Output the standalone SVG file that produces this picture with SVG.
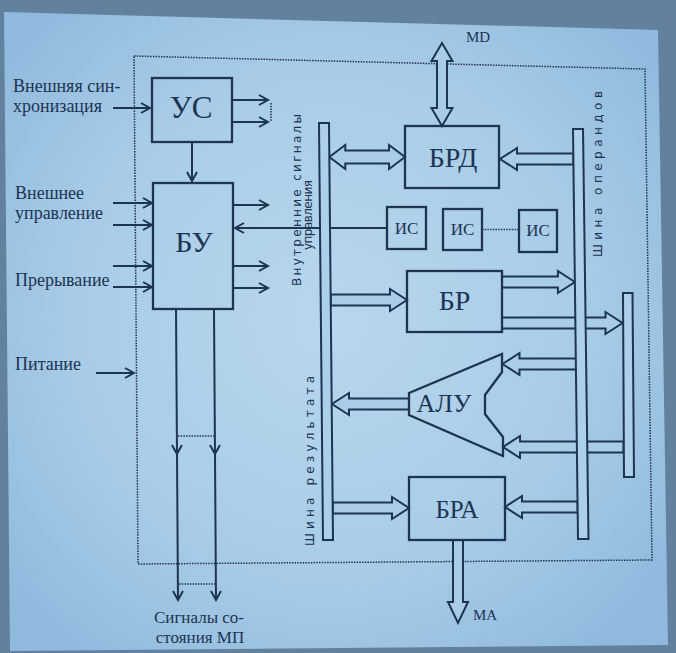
<svg xmlns="http://www.w3.org/2000/svg" width="676" height="653" viewBox="0 0 676 653">
<defs>
<radialGradient id="paperGrad" cx="330" cy="320" r="420" gradientUnits="userSpaceOnUse">
<stop offset="0" stop-color="#b8d7ee"/>
<stop offset="0.6" stop-color="#a8cce8"/>
<stop offset="1" stop-color="#8fbadd"/>
</radialGradient>
<marker id="ah" viewBox="-11 -7 13 14" markerWidth="13" markerHeight="14" refX="0" refY="0" orient="auto" markerUnits="userSpaceOnUse">
<path d="M-9,-5 L0,0 L-9,5" fill="none" stroke="#1d3452" stroke-width="2"/>
</marker>
<style>
.ln{fill:none;stroke:#1d3452;stroke-width:2}
.box{fill:none;stroke:#1d3452;stroke-width:2.3}
.bus{fill:#acd0ea;stroke:#1d3452;stroke-width:2}
.big{fill:#a9cde9;stroke:#1d3452;stroke-width:2;stroke-linejoin:miter}
.dot{fill:none;stroke:#1d3452;stroke-width:1.5;stroke-dasharray:1.5 1.2}
.t{fill:#1d3452;font-family:"Liberation Serif","Times New Roman",serif}
.v{fill:#1d3452;font-size:12px;font-family:"DejaVu Sans","Liberation Sans",sans-serif}
</style>
</defs>
<rect x="0" y="0" width="676" height="653" fill="#62819f"/>
<polygon points="4,12 658,30 668,645 10,651" fill="url(#paperGrad)"/>

<path id="boundary" d="M134,56 L645,69 L652,560 L138,564 Z" class="dot"/>

<g id="connectors">
<line class="ln" x1="113" y1="108" x2="150" y2="108" marker-end="url(#ah)"/>
<line class="ln" x1="232" y1="100" x2="268" y2="100" marker-end="url(#ah)"/>
<line class="ln" x1="232" y1="122" x2="268" y2="122" marker-end="url(#ah)"/>
<line class="dot" x1="271" y1="103" x2="271" y2="122"/>
<line class="ln" x1="192" y1="142" x2="192" y2="181" marker-end="url(#ah)"/>
<line class="ln" x1="113" y1="203" x2="152" y2="203" marker-end="url(#ah)"/>
<line class="ln" x1="113" y1="225" x2="152" y2="225" marker-end="url(#ah)"/>
<line class="ln" x1="113" y1="266" x2="152" y2="266" marker-end="url(#ah)"/>
<line class="ln" x1="113" y1="287" x2="152" y2="287" marker-end="url(#ah)"/>
<line class="ln" x1="233" y1="205" x2="268" y2="205" marker-end="url(#ah)"/>
<line class="ln" x1="233" y1="266" x2="268" y2="266" marker-end="url(#ah)"/>
<line class="ln" x1="233" y1="288" x2="268" y2="288" marker-end="url(#ah)"/>
<line class="ln" x1="387" y1="228" x2="235" y2="228" marker-end="url(#ah)"/>
<line class="ln" x1="96" y1="373" x2="134" y2="373" marker-end="url(#ah)"/>
<path class="ln" d="M176,309 L177,454 L178,600" marker-mid="url(#ah)" marker-end="url(#ah)"/>
<path class="ln" d="M214,309 L215,454 L216,600" marker-mid="url(#ah)" marker-end="url(#ah)"/>
<line class="dot" x1="178" y1="436" x2="214" y2="436"/>
<line class="dot" x1="179" y1="584" x2="215" y2="584"/>
<line class="dot" x1="482" y1="229.5" x2="519" y2="229.5"/>

<polygon class="big" points="329.3,157 345.3,145 345.3,150.5 389,150.5 389,145 405,157 389,169 389,163.5 345.3,163.5 345.3,169"/>
<polygon class="big" points="573.4,153.5 517,153.5 517,148 500,159 517,170 517,164.5 573.4,164.5"/>
<polygon class="big" points="330.7,294.5 390,294.5 390,289 407,300 390,311 390,305.5 330.7,305.5"/>
<polygon class="big" points="502,276.5 557.9,276.5 557.9,271 574.9,282 557.9,293 557.9,287.5 502,287.5"/>
<polygon class="big" points="502,317.5 605.5,317.5 605.5,312 622.5,323 605.5,334 605.5,328.5 502,328.5"/>
<polygon class="big" points="409,398.5 349,398.5 349,393 332,404 349,415 349,409.5 409,409.5"/>
<polygon class="big" points="576,358.5 519.5,358.5 519.5,353 502.5,364 519.5,375 519.5,369.5 576,369.5"/>
<polygon class="big" points="623.5,441.5 520,441.5 520,436 503,447 520,458 520,452.5 623.5,452.5"/>
<polygon class="big" points="332.7,502.5 392,502.5 392,497 409,508 392,519 392,513.5 332.7,513.5"/>
<polygon class="big" points="577.6,501.5 522,501.5 522,496 505,507 522,518 522,512.5 577.6,512.5"/>
<polygon class="big" points="442,43 452.5,61 447,61 447,108 452.5,108 442,126 431.5,108 437,108 437,61 431.5,61"/>
<polygon class="big" points="453,540 453,602 448,602 458,623 468,602 463,602 463,540"/>
</g>

<g id="bus-result">
<polygon class="bus" points="319,123 329,123 333,540 323,540"/>
<text class="v" transform="translate(314,461) rotate(-90)" text-anchor="middle" textLength="170" lengthAdjust="spacing">Шина результата</text>
</g>
<g id="bus-operand">
<polygon class="bus" points="573,129 583,129 588.5,539 578,539"/>
<text class="v" transform="translate(602,174) rotate(-90)" text-anchor="middle" textLength="166" lengthAdjust="spacing">Шина операндов</text>
</g>
<g id="bus-third">
<polygon class="bus" points="623,293 632.5,293 634,477 624,477"/>
</g>
<g id="label-internal">
<text class="v" transform="translate(301,200) rotate(-90)" text-anchor="middle" textLength="172" lengthAdjust="spacing">Внутренние сигналы</text>
<text class="v" transform="translate(312,215) rotate(-90)" text-anchor="middle" textLength="70" lengthAdjust="spacing">управления</text>
</g>

<g id="node-us">
<rect class="box" x="152" y="78" width="80" height="64"/>
<text class="t" x="191" y="118" font-size="31" text-anchor="middle">УС</text>
</g>
<g id="node-bu">
<rect class="box" x="153" y="183" width="80" height="126"/>
<text class="t" x="194" y="252" font-size="30" text-anchor="middle">БУ</text>
</g>
<g id="node-brd">
<rect class="box" x="405" y="126" width="94" height="62"/>
<text class="t" x="453" y="167" font-size="28" text-anchor="middle">БРД</text>
</g>
<g id="node-is1">
<rect class="box" x="387" y="207" width="39" height="42"/>
<text class="t" x="406.5" y="234" font-size="17" text-anchor="middle">ИС</text>
</g>
<g id="node-is2">
<rect class="box" x="443" y="209" width="39" height="41"/>
<text class="t" x="462.5" y="235" font-size="17" text-anchor="middle">ИС</text>
</g>
<g id="node-is3">
<rect class="box" x="519" y="210" width="38" height="42"/>
<text class="t" x="538" y="236" font-size="17" text-anchor="middle">ИС</text>
</g>
<g id="node-br">
<rect class="box" x="407" y="271" width="95" height="61"/>
<text class="t" x="454.5" y="310" font-size="28" text-anchor="middle">БР</text>
</g>
<g id="node-alu">
<polygon class="box" points="409,393 502,354 502,372 485,395 485,414 503,437 503,456 409,415"/>
<text class="t" x="444" y="412" font-size="26" text-anchor="middle">АЛУ</text>
</g>
<g id="node-bra">
<rect class="box" x="409" y="477" width="96" height="63"/>
<text class="t" x="457" y="518" font-size="25" text-anchor="middle">БРА</text>
</g>

<g id="labels">
<text class="t" x="478" y="42" font-size="15" text-anchor="middle">MD</text>
<text class="t" x="473" y="620" font-size="15">MA</text>
<text class="t" x="13" y="92" font-size="18">Внешняя син-</text>
<text class="t" x="13" y="112" font-size="18">хронизация</text>
<text class="t" x="15" y="199" font-size="18">Внешнее</text>
<text class="t" x="15" y="219" font-size="18">управление</text>
<text class="t" x="15" y="286" font-size="18">Прерывание</text>
<text class="t" x="15" y="370" font-size="18">Питание</text>
<text class="t" x="199" y="623" font-size="17" text-anchor="middle">Сигналы со-</text>
<text class="t" x="200" y="643" font-size="17" text-anchor="middle">стояния МП</text>
</g>
</svg>
